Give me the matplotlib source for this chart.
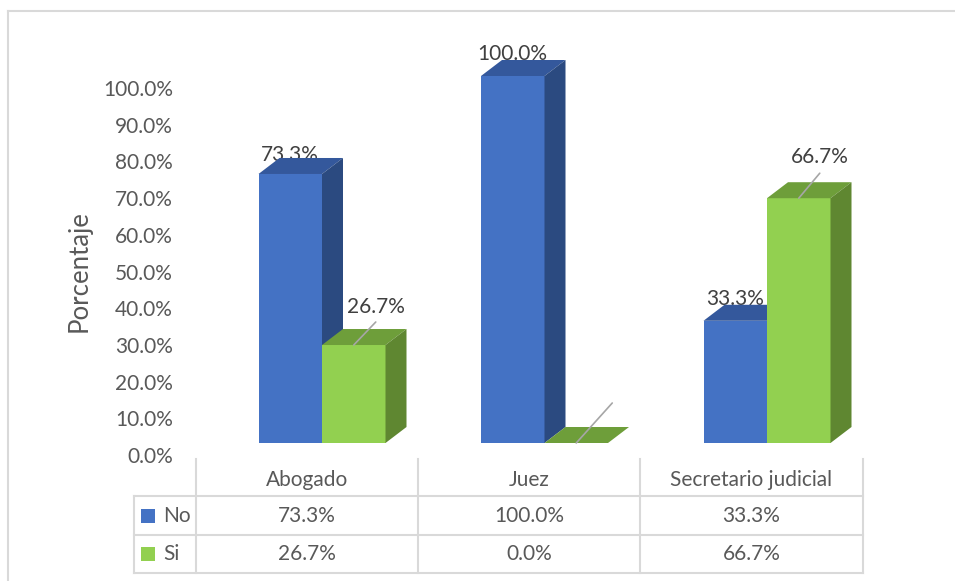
import matplotlib
matplotlib.use("Agg")
import matplotlib.pyplot as plt
from matplotlib.patches import Polygon, Rectangle
from matplotlib.lines import Line2D
from matplotlib.transforms import ScaledTranslation
import numpy as np

# data
categories = ["Abogado", "Juez", "Secretario judicial"]
series = ["No", "Si"]
no_vals = [73.3, 100.0, 33.3]
si_vals = [26.7, 0.0, 66.7]
yticks = np.arange(0, 101, 10)

plt.rcParams['font.family'] = ['Lato', 'DejaVu Sans']

W, H = 955, 581
fig = plt.figure(figsize=(W / 100, H / 100), dpi=100)


def fx(px):
    return px / W


def fy(py):
    return 1 - py / H


# plot area (pixels): x 196..863, baseline at y=443, 100% at y=76
ax = fig.add_axes([fx(196), fy(443), (863 - 196) / W, (443 - 76) / H])
step = 222.5  # px between categories
ax.set_xlim((196 - 322) / step, (863 - 322) / step)
ax.set_ylim(0, 100)
ax.axis('off')

px_x = (ax.get_xlim()[1] - ax.get_xlim()[0]) / (863 - 196)
px_y = 100 / (443 - 76)
dx, dy = 21 * px_x, 16 * px_y
bw = 63.5 * px_x

blue = ['#4472C4', '#34589C', '#2B4A80']
green = ['#92D050', '#6E9E3A', '#5F8731']


def bar3d(x0, h, cols):
    ax.add_patch(Rectangle((x0, 0), bw, h, fc=cols[0], ec='none', zorder=3, clip_on=False))
    ax.add_patch(Polygon([(x0, h), (x0 + bw, h), (x0 + bw + dx, h + dy), (x0 + dx, h + dy)],
                         closed=True, fc=cols[1], ec='none', zorder=3, clip_on=False))
    if h > 0:
        ax.add_patch(Polygon([(x0 + bw, 0), (x0 + bw + dx, dy), (x0 + bw + dx, h + dy), (x0 + bw, h)],
                             closed=True, fc=cols[2], ec='none', zorder=3, clip_on=False))


x = np.arange(len(categories))
for i in x:
    bar3d(i - bw, no_vals[i], blue)
    bar3d(i, si_vals[i], green)

lab_col = '#404040'
# "No" labels sit near the back edge, behind the bars
no_drop = [3, 0, 0]  # px
for i in x:
    ax.text(i - bw / 2, no_vals[i] + dy - no_drop[i] * px_y, f"{no_vals[i]:.1f}%",
            ha='center', va='baseline', fontsize=15, color=lab_col, zorder=2)

# "Si" labels with leader lines (offsets in pixels)
leader = [(22, 23), (36, 40), (21, 25)]
text_off = [(22, 32), None, (21, 35)]
for i in x:
    xy = (i + bw / 2, si_vals[i])
    ax.annotate('', xy=xy, xytext=leader[i], textcoords='offset pixels',
                arrowprops=dict(arrowstyle='-', color='#A6A6A6', lw=1.2, shrinkA=0, shrinkB=0),
                zorder=4)
    if text_off[i] is not None:
        ax.annotate(f"{si_vals[i]:.1f}%", xy=xy, xytext=text_off[i], textcoords='offset pixels',
                    ha='center', va='baseline', fontsize=15, color=lab_col, zorder=4)

# y tick labels (shifted like the 3D back wall)
shift = ScaledTranslation(-23 / 100, -14 / 100, fig.dpi_scale_trans)
for v in yticks:
    ax.text(0, v, f"{v:.1f}%", transform=ax.get_yaxis_transform() + shift,
            ha='right', va='center', fontsize=15, color='#595959')

fig.text(fx(79), fy(271), "Porcentaje", rotation=90, ha='center', va='center',
         fontsize=18.5, color='#595959')

# data table
gcol = '#D9D9D9'
col_edges = [134, 196, 418, 640, 863]
row_edges = [459, 496, 535, 573]


def hline(y, x0, x1):
    fig.add_artist(Line2D([fx(x0), fx(x1)], [fy(y), fy(y)], color=gcol, lw=1.5))


def vline(xp, y0, y1):
    fig.add_artist(Line2D([fx(xp), fx(xp)], [fy(y0), fy(y1)], color=gcol, lw=1.5))


for y in row_edges[1:]:
    hline(y, col_edges[0], col_edges[-1])
vline(col_edges[0], row_edges[1], row_edges[-1])
for xp in col_edges[1:]:
    vline(xp, row_edges[0], row_edges[-1])

tcol = '#595959'
for j, cat in enumerate(categories):
    cx = (col_edges[j + 1] + col_edges[j + 2]) / 2
    fig.text(fx(cx), fy((row_edges[0] + row_edges[1]) / 2 + 2), cat, ha='center', va='center',
             fontsize=15, color=tcol)
    for r, vals in enumerate([no_vals, si_vals]):
        cy = (row_edges[r + 1] + row_edges[r + 2]) / 2
        fig.text(fx(cx), fy(cy), f"{vals[j]:.1f}%", ha='center', va='center',
                 fontsize=15, color=tcol)

for r, (name, cols) in enumerate(zip(series, [blue, green])):
    cy = (row_edges[r + 1] + row_edges[r + 2]) / 2
    fig.add_artist(Rectangle((fx(141), fy(cy + 7)), 14 / W, 14 / H, transform=fig.transFigure,
                             fc=cols[0], ec='none'))
    fig.text(fx(163), fy(cy), name, ha='left', va='center', fontsize=15, color=tcol)

# chart frame (top and left edges visible)
fig.add_artist(Line2D([fx(7.5), fx(955)], [fy(10.5), fy(10.5)], color=gcol, lw=1.5))
fig.add_artist(Line2D([fx(7.5), fx(7.5)], [fy(10.5), fy(581)], color=gcol, lw=1.5))

fig.savefig("out.png", dpi=100)
